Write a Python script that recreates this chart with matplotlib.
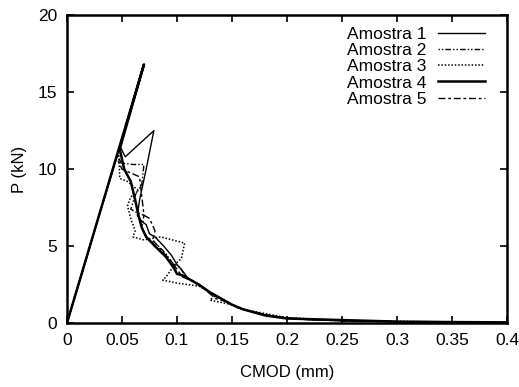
import matplotlib
matplotlib.use("Agg")
import matplotlib.pyplot as plt

plt.rcParams['font.family'] = ['Liberation Sans', 'DejaVu Sans']

# CMOD (mm) and load P (kN) for each specimen
x1 = [0, 0.048, 0.053, 0.079, 0.072, 0.069, 0.066, 0.064, 0.068, 0.072, 0.075, 0.080,
      0.088, 0.095, 0.100, 0.105, 0.110, 0.120, 0.130, 0.140, 0.150, 0.160, 0.180,
      0.200, 0.220, 0.250, 0.270]
y1 = [0, 11.5, 10.8, 12.5, 10.0, 9.0, 8.0, 7.0, 6.6, 6.4, 5.8, 5.6,
      5.0, 4.4, 3.8, 3.4, 2.9, 2.5, 2.0, 1.6, 1.2, 0.9, 0.55,
      0.32, 0.22, 0.15, 0.10]

x2 = [0, 0.046, 0.049, 0.060, 0.070, 0.068, 0.062, 0.058, 0.063, 0.070, 0.068, 0.074,
      0.082, 0.090, 0.096, 0.103, 0.108, 0.118, 0.128, 0.136, 0.146, 0.156, 0.170,
      0.190, 0.215, 0.240, 0.265]
y2 = [0, 11.0, 10.4, 10.3, 10.3, 9.0, 8.3, 7.4, 7.2, 7.0, 6.2, 5.4,
      5.1, 4.5, 3.9, 3.6, 3.0, 2.6, 2.1, 1.7, 1.3, 1.0, 0.70,
      0.40, 0.25, 0.18, 0.12]

x3 = [0, 0.047, 0.048, 0.055, 0.065, 0.058, 0.055, 0.058, 0.062, 0.060, 0.070, 0.085,
      0.107, 0.104, 0.098, 0.090, 0.087, 0.100, 0.120, 0.135, 0.130, 0.150, 0.160,
      0.200, 0.250, 0.300, 0.350, 0.400]
y3 = [0, 11.2, 9.4, 9.2, 8.6, 8.2, 7.6, 6.8, 6.0, 5.6, 5.4, 5.6,
      5.2, 4.2, 3.8, 3.0, 2.8, 2.6, 2.4, 1.8, 1.5, 1.2, 0.9,
      0.35, 0.18, 0.12, 0.08, 0.06]

x4 = [0, 0.070, 0.048, 0.052, 0.058, 0.062, 0.065, 0.068, 0.072, 0.080, 0.090, 0.097,
      0.100, 0.105, 0.110, 0.120, 0.130, 0.140, 0.150, 0.160, 0.170, 0.180, 0.200,
      0.250, 0.300, 0.350, 0.400]
y4 = [0, 16.8, 11.3, 10.0, 9.2, 8.0, 7.0, 6.2, 5.6, 5.0, 4.3, 3.6,
      3.2, 3.1, 2.9, 2.5, 2.0, 1.6, 1.2, 0.9, 0.7, 0.5, 0.3,
      0.2, 0.1, 0.07, 0.05]

x5 = [0, 0.045, 0.050, 0.066, 0.070, 0.075, 0.080, 0.078, 0.085, 0.095, 0.100, 0.105,
      0.115, 0.125, 0.135, 0.145, 0.155, 0.170, 0.190, 0.220, 0.260, 0.300, 0.350,
      0.380]
y5 = [0, 10.8, 10.0, 9.5, 7.0, 6.8, 6.0, 5.4, 4.8, 4.0, 3.5, 3.0,
      2.7, 2.2, 1.6, 1.4, 1.0, 0.7, 0.4, 0.25, 0.15, 0.10, 0.05,
      0.04]

labels = ['Amostra 1', 'Amostra 2', 'Amostra 3', 'Amostra 4', 'Amostra 5']
x_ticks = [0, 0.05, 0.1, 0.15, 0.2, 0.25, 0.3, 0.35, 0.4]
x_tick_labels = ['0', '0.05', '0.1', '0.15', '0.2', '0.25', '0.3', '0.35', '0.4']
y_ticks = [0, 5, 10, 15, 20]

fig = plt.figure(figsize=(5.19, 3.87), dpi=100)
ax = fig.add_axes([0.129, 0.165, 0.848, 0.796])

styles = [
    dict(ls='-', lw=1.0),
    dict(ls=(0, (1, 1.5, 1, 1.5, 4, 1.5)), lw=1.0),
    dict(ls=(0, (1, 1.2)), lw=1.1),
    dict(ls='-', lw=1.8),
    dict(ls=(0, (5, 2, 2, 2)), lw=1.0),
]
for xs, ys, st, lab in zip([x1, x2, x3, x4, x5], [y1, y2, y3, y4, y5], styles, labels):
    ax.plot(xs, ys, color='black', label=lab, **st)

ax.set_xlim(0, 0.4)
ax.set_ylim(0, 20)
ax.set_xticks(x_ticks)
ax.set_xticklabels(x_tick_labels)
ax.set_yticks(y_ticks)
ax.tick_params(direction='in', length=5, width=1.2, top=True, right=True,
               labelsize=12.5, pad=7)
for sp in ax.spines.values():
    sp.set_linewidth(1.8)

ax.set_xlabel('CMOD (mm)', fontsize=12, labelpad=12)
ax.set_ylabel('P (kN)', fontsize=12, labelpad=8)

leg = ax.legend(loc='upper right', bbox_to_anchor=(0.95, 0.962), frameon=False,
                markerfirst=False, fontsize=12.5, handlelength=2.7,
                handletextpad=0.7, labelspacing=0.06, borderaxespad=0.0,
                borderpad=0.0)

fig.savefig('out.png', dpi=100)
